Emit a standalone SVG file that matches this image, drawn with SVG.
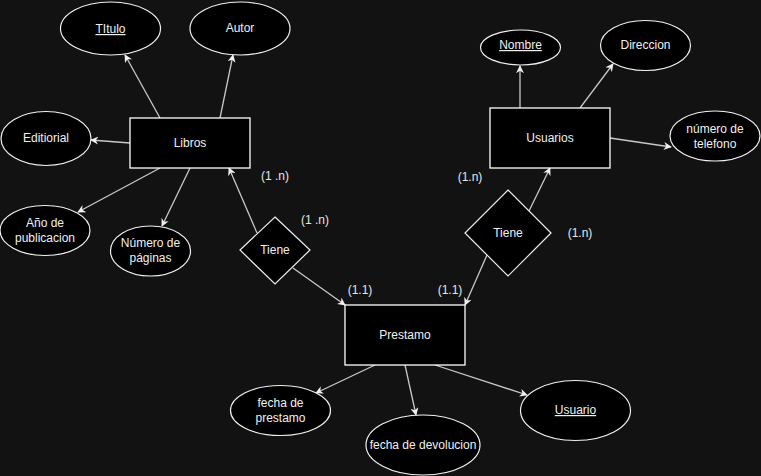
<svg xmlns="http://www.w3.org/2000/svg" width="761" height="476" viewBox="0 0 761 476">
  <defs>
    <marker id="arrow" viewBox="0 0 10 10" refX="9" refY="5" markerWidth="8" markerHeight="8" markerUnits="userSpaceOnUse" orient="auto">
      <path d="M0,0 L10,5 L0,10 L3,5 Z" fill="#f0f0f0"/>
    </marker>
  </defs>
  <style>
    .ent { fill: #000000; stroke: #ffffff; stroke-width: 1.3; }
    .attr { fill: #000000; stroke: #f0f0f0; stroke-width: 1.2; }
    .rel { fill: #000000; stroke: #f0f0f0; stroke-width: 1.2; }
    text { font-family: "Liberation Sans", Arial, sans-serif; font-size: 12px; fill: #f0f0f0; text-anchor: middle; }
    .key { text-decoration: underline; }
    .card { fill: #e6e6e6; }
    .conn line { stroke: #c8c8c8; stroke-width: 1.3; marker-end: url(#arrow); }
  </style>
  <rect width="761" height="476" fill="#121212"/>

  <!-- connectors -->
  <g id="connectors" class="conn">
    <line x1="160" y1="118" x2="125" y2="55"/>
    <line x1="220" y1="118" x2="233" y2="55"/>
    <line x1="130" y1="143" x2="91" y2="140"/>
    <line x1="160" y1="168" x2="78" y2="212"/>
    <line x1="190" y1="168" x2="162" y2="226"/>
    <line x1="257" y1="233" x2="229" y2="168"/>
    <line x1="293" y1="268" x2="345" y2="305"/>
    <line x1="529" y1="211" x2="550" y2="168"/>
    <line x1="487" y1="255" x2="465" y2="305"/>
    <line x1="520" y1="108" x2="520" y2="66"/>
    <line x1="580" y1="108" x2="613" y2="64"/>
    <line x1="610" y1="138" x2="671" y2="147"/>
    <line x1="375" y1="365" x2="316" y2="393"/>
    <line x1="405" y1="365" x2="416" y2="415"/>
    <line x1="435" y1="365" x2="527" y2="395"/>
  </g>

  <!-- entities -->
  <g id="libros">
    <rect class="ent" x="130" y="118" width="120" height="50"/>
    <text x="190" y="147">Libros</text>
  </g>
  <g id="usuarios">
    <rect class="ent" x="490" y="108" width="120" height="60"/>
    <text x="550" y="142">Usuarios</text>
  </g>
  <g id="prestamo">
    <rect class="ent" x="345" y="305" width="120" height="60"/>
    <text x="405" y="339">Prestamo</text>
  </g>

  <!-- relationships -->
  <g id="tiene-libros">
    <polygon class="rel" points="275,217 310,250 275,284 240,250"/>
    <text x="275" y="254">Tiene</text>
  </g>
  <g id="tiene-usuarios">
    <polygon class="rel" points="508,190 551,233 508,276 465,233"/>
    <text x="508" y="237">Tiene</text>
  </g>

  <!-- attributes of Libros -->
  <g id="attr-titulo">
    <ellipse class="attr" cx="110.5" cy="28.5" rx="50" ry="26.5"/>
    <text class="key" x="110.5" y="33">TItulo</text>
  </g>
  <g id="attr-autor">
    <ellipse class="attr" cx="240" cy="28.5" rx="50" ry="26.5"/>
    <text x="240" y="32">Autor</text>
  </g>
  <g id="attr-editorial">
    <ellipse class="attr" cx="46" cy="138.5" rx="45" ry="27"/>
    <text x="46" y="142">Editiorial</text>
  </g>
  <g id="attr-anio">
    <ellipse class="attr" cx="45" cy="230.5" rx="45" ry="25"/>
    <text x="45" y="227">Año de</text>
    <text x="45" y="242">publicacion</text>
  </g>
  <g id="attr-paginas">
    <ellipse class="attr" cx="150.5" cy="251" rx="40" ry="25"/>
    <text x="150.5" y="247">Número de</text>
    <text x="150.5" y="262">páginas</text>
  </g>

  <!-- attributes of Usuarios -->
  <g id="attr-nombre">
    <ellipse class="attr" cx="520.5" cy="47.5" rx="40" ry="17.5"/>
    <text class="key" x="520.5" y="49">Nombre</text>
  </g>
  <g id="attr-direccion">
    <ellipse class="attr" cx="645.5" cy="45.5" rx="45" ry="25"/>
    <text x="645.5" y="49">Direccion</text>
  </g>
  <g id="attr-telefono">
    <ellipse class="attr" cx="715" cy="136" rx="45" ry="25"/>
    <text x="715" y="133">número de</text>
    <text x="715" y="148">telefono</text>
  </g>

  <!-- attributes of Prestamo -->
  <g id="attr-fecha-prestamo">
    <ellipse class="attr" cx="280.5" cy="410.5" rx="50" ry="25"/>
    <text x="280.5" y="407">fecha de</text>
    <text x="280.5" y="422">prestamo</text>
  </g>
  <g id="attr-fecha-devolucion">
    <ellipse class="attr" cx="423" cy="445" rx="57" ry="30"/>
    <text x="423" y="449">fecha de devolucion</text>
  </g>
  <g id="attr-usuario">
    <ellipse class="attr" cx="575.5" cy="410.5" rx="55" ry="30"/>
    <text class="key" x="575.5" y="414">Usuario</text>
  </g>

  <!-- cardinalities -->
  <g id="cardinalities">
    <text class="card" x="275" y="180">(1 .n)</text>
    <text class="card" x="315" y="224">(1 .n)</text>
    <text class="card" x="360" y="294">(1.1)</text>
    <text class="card" x="450" y="294">(1.1)</text>
    <text class="card" x="470" y="181">(1.n)</text>
    <text class="card" x="580" y="237">(1.n)</text>
  </g>
</svg>
